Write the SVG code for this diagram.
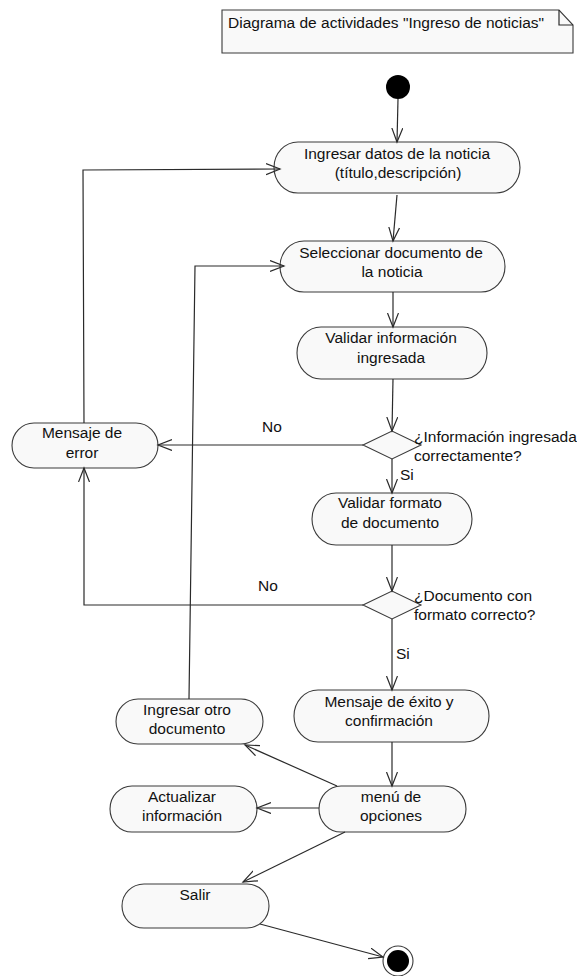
<svg xmlns="http://www.w3.org/2000/svg" width="577" height="976" viewBox="0 0 577 976">
<style>
text{font-family:"Liberation Sans",Arial,sans-serif;font-size:15.5px;fill:#111}
.c{text-anchor:middle}
.n{fill:#f9f9f9;stroke:#3a3a3a;stroke-width:1.1}
.e{fill:none;stroke:#2a2a2a;stroke-width:1.2}
</style>
<defs>
<marker id="a" markerUnits="userSpaceOnUse" markerWidth="16" markerHeight="14" refX="14" refY="6" orient="auto">
<path d="M0,0.5 L14,6 L0,11.5" fill="none" stroke="#2a2a2a" stroke-width="1.2"/>
</marker>
</defs>
<rect width="577" height="976" fill="#fff"/>
<g id="note">
<path d="M222,10 H559 L573,25 V53 H222 Z" class="n"/>
<path d="M559,10 V25 H573" class="e"/>
<text x="228" y="28">Diagrama de actividades "Ingreso de noticias"</text>
</g>
<g id="start"><circle cx="398" cy="87" r="12" fill="#000"/></g>
<g id="n1"><rect x="274" y="142" width="246" height="51" rx="24" ry="25.5" class="n"/>
<text class="c" x="397" y="159">Ingresar datos de la noticia</text><text class="c" x="398" y="178">(título,descripción)</text></g>
<g id="n2"><rect x="280" y="241" width="225" height="51" rx="24" ry="25.5" class="n"/>
<text class="c" x="391" y="258">Seleccionar documento de</text><text class="c" x="392" y="277">la noticia</text></g>
<g id="n3"><rect x="297" y="327" width="190" height="52" rx="24" ry="26" class="n"/>
<text class="c" x="391" y="343">Validar información</text><text class="c" x="391" y="363">ingresada</text></g>
<g id="d1"><polygon points="363,445 392,431 421,445 392,459" class="n"/>
<text x="414" y="442">¿Información ingresada</text><text x="414" y="461">correctamente?</text></g>
<g id="err"><rect x="12" y="423" width="146" height="45" rx="22" ry="22.5" class="n"/>
<text class="c" x="82" y="438">Mensaje de</text><text class="c" x="82" y="458">error</text></g>
<g id="n4"><rect x="312" y="493" width="160" height="52" rx="24" ry="26" class="n"/>
<text class="c" x="390" y="508">Validar formato</text><text class="c" x="390" y="528">de documento</text></g>
<g id="d2"><polygon points="363,605 392,591 421,605 392,619" class="n"/>
<text x="414" y="601">¿Documento con</text><text x="414" y="620">formato correcto?</text></g>
<g id="n5"><rect x="294" y="690" width="195" height="52" rx="24" ry="26" class="n"/>
<text class="c" x="389" y="707">Mensaje de éxito y</text><text class="c" x="389" y="726">confirmación</text></g>
<g id="otro"><rect x="116" y="699" width="147" height="45" rx="22" ry="22.5" class="n"/>
<text class="c" x="187" y="715">Ingresar otro</text><text class="c" x="187" y="734">documento</text></g>
<g id="menu"><rect x="319" y="786" width="147" height="46" rx="22" ry="23" class="n"/>
<text class="c" x="391" y="802">menú de</text><text class="c" x="391" y="821">opciones</text></g>
<g id="act"><rect x="110" y="786" width="147" height="46" rx="22" ry="23" class="n"/>
<text class="c" x="182" y="802">Actualizar</text><text class="c" x="182" y="821">información</text></g>
<g id="salir"><rect x="122" y="884" width="147" height="44" rx="22" ry="22" class="n"/>
<text class="c" x="195" y="900">Salir</text></g>
<g id="end"><circle cx="398" cy="961" r="15" fill="#fff" stroke="#3a3a3a" stroke-width="1.1"/><circle cx="398" cy="961" r="11" fill="#000"/></g>
<g id="edges" class="e" marker-end="url(#a)">
<path d="M398,99 L397,142" class="e" marker-end="url(#a)"/>
<path d="M397,195 L393,241" class="e" marker-end="url(#a)"/>
<path d="M393,292 L393,327" class="e" marker-end="url(#a)"/>
<path d="M393,379 L392,431" class="e" marker-end="url(#a)"/>
<path d="M363,445 L158,445" class="e" marker-end="url(#a)"/>
<path d="M392,459 L392,493" class="e" marker-end="url(#a)"/>
<path d="M392,545 L392,591" class="e" marker-end="url(#a)"/>
<path d="M363,605 L84,605 L84,468" class="e" marker-end="url(#a)"/>
<path d="M392,619 L392,690" class="e" marker-end="url(#a)"/>
<path d="M392,742 L392,786" class="e" marker-end="url(#a)"/>
<path d="M319,808 L257,808" class="e" marker-end="url(#a)"/>
<path d="M337,786 L245,745" class="e" marker-end="url(#a)"/>
<path d="M345,832 L243,882" class="e" marker-end="url(#a)"/>
<path d="M260,924 L383,957" class="e" marker-end="url(#a)"/>
<path d="M84,423 L83,170 L280,169" class="e" marker-end="url(#a)"/>
<path d="M189,699 L195,266 L284,266" class="e" marker-end="url(#a)"/>
</g>
<g id="labels">
<text x="262" y="432">No</text>
<text x="400" y="480">Si</text>
<text x="258" y="591">No</text>
<text x="396" y="659">Si</text>
</g>
</svg>
